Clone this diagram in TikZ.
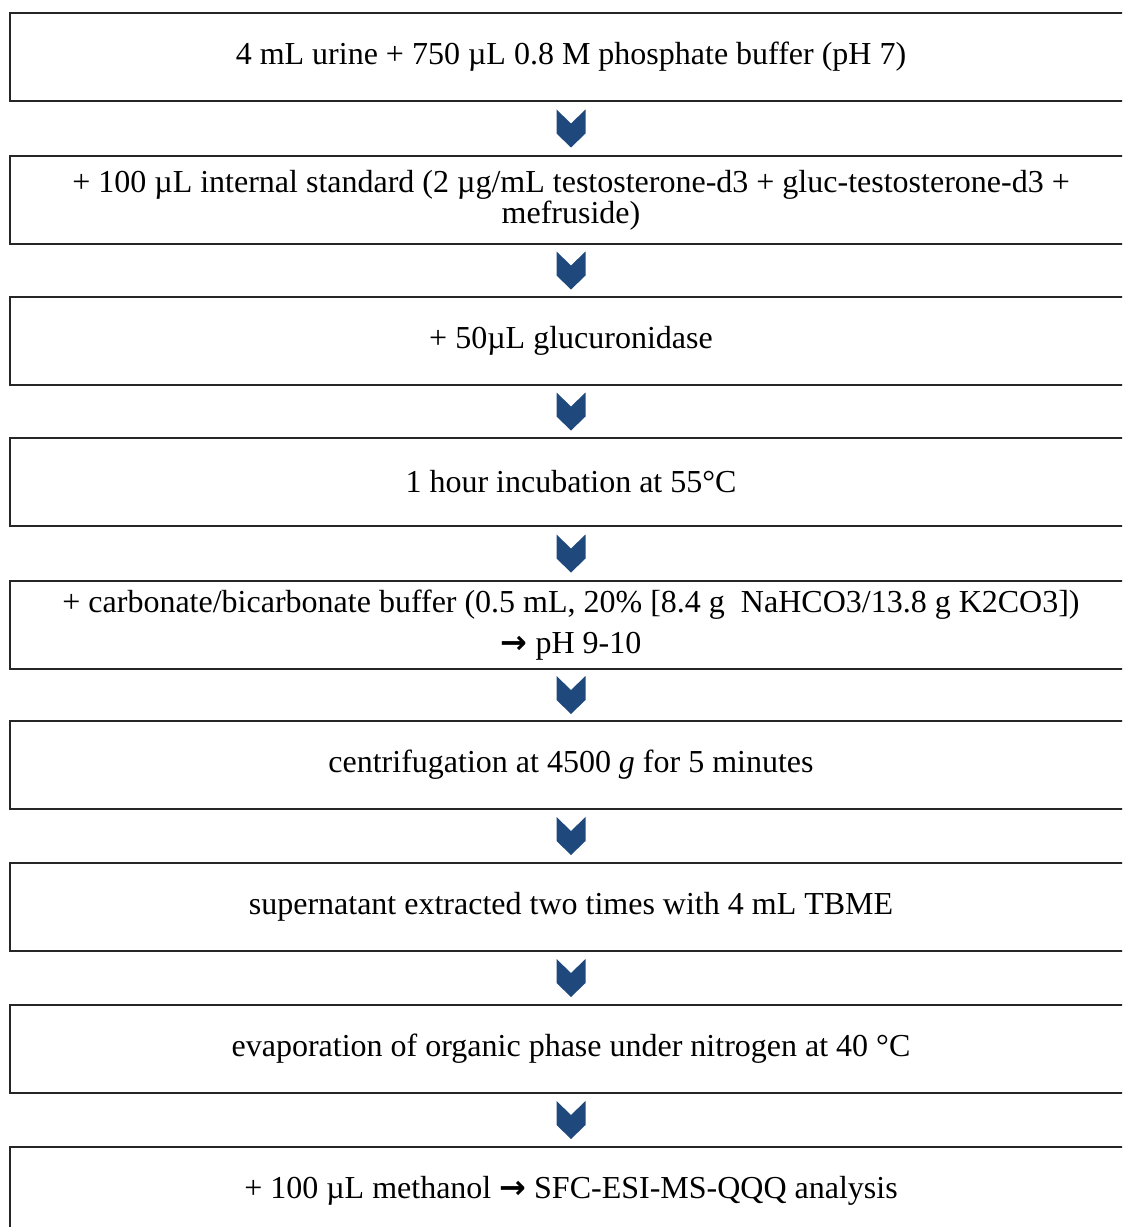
\documentclass[tikz,border=0pt]{standalone}
\usepackage{fontspec}
\setmainfont{Liberation Serif}
\newfontfamily\arrowfont{DejaVu Sans}
\usetikzlibrary{calc}
\definecolor{chevblue}{RGB}{31,73,125}
\definecolor{boxline}{RGB}{38,38,38}
\newcommand{\thinarrow}{{\arrowfont\bfseries →}}

\begin{document}
\begin{tikzpicture}
        [x=0.75pt, y=0.75pt,
        stage/.style={rectangle, draw=boxline, line width=1.5pt, minimum width=841.5pt, minimum height=66pt, inner sep=0pt, align=center, font=\fontsize{24}{21}\selectfont},
        chevron/.pic={\fill[chevblue] (-14.5,19) -- (0,5) -- (14.5,19) -- (14.5,-5) -- (0,-19) -- (-14.5,-5) -- cycle;}]
        \useasboundingbox (0,0) rectangle (1122,-1227);
        \clip (0,0) rectangle (1122,-1227);

        \node[stage] (urine) at (571,-57) {4 mL urine + 750 µL 0.8 M phosphate buffer (pH 7)};
        \node[stage] (istd) at (571,-200) {+ 100 µL internal standard (2 µg/mL testosterone-d3 + gluc-testosterone-d3 +\\mefruside)};
        \node[stage] (gluc) at (571,-341) {+ 50µL glucuronidase};
        \node[stage] (incub) at (571,-482) {1 hour incubation at 55°C};
        \node[stage] (buffer) at (571,-625) {+ carbonate/bicarbonate buffer (0.5 mL, 20\% [8.4 g~ NaHCO3/13.8 g K2CO3])\\[9pt]\thinarrow{} pH 9-10};
        \node[stage] (centr) at (571,-765) {centrifugation at 4500 \textit{g} for 5 minutes};
        \node[stage] (extr) at (571,-907) {supernatant extracted two times with 4 mL TBME};
        \node[stage] (evap) at (571,-1049) {evaporation of organic phase under nitrogen at 40 °C};
        \node[stage] (recon) at (571,-1191) {+ 100 µL methanol \thinarrow{} SFC-ESI-MS-QQQ analysis};

        \pic at ($(urine)!0.5!(istd)$) {chevron};
        \pic at ($(istd)!0.5!(gluc)$) {chevron};
        \pic at ($(gluc)!0.5!(incub)$) {chevron};
        \pic at ($(incub)!0.5!(buffer)$) {chevron};
        \pic at ($(buffer)!0.5!(centr)$) {chevron};
        \pic at ($(centr)!0.5!(extr)$) {chevron};
        \pic at ($(extr)!0.5!(evap)$) {chevron};
        \pic at ($(evap)!0.5!(recon)$) {chevron};

\end{tikzpicture}
\end{document}
